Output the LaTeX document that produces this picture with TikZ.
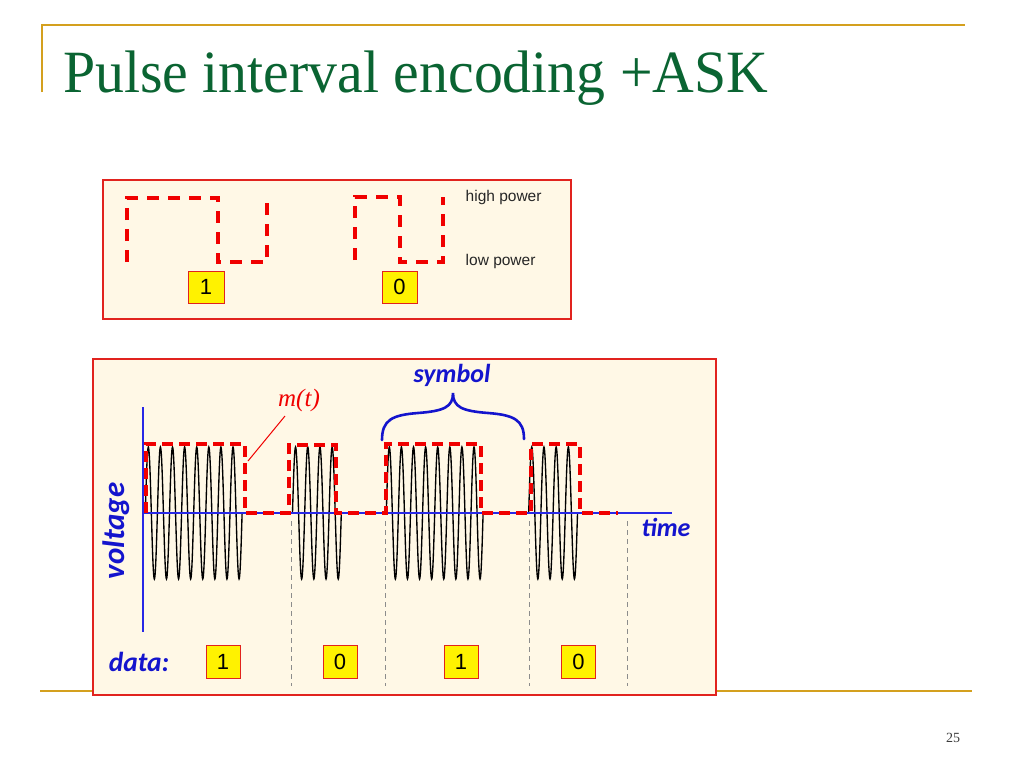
\documentclass[tikz,border=0pt]{standalone}
\usepackage{fontspec}
\setmainfont{Liberation Serif}
\newfontfamily\arialf{Liberation Sans}
\newfontfamily\carl{Carlito}
\definecolor{gold}{RGB}{212,160,30}
\definecolor{titlegreen}{RGB}{10,100,50}
\definecolor{cream}{RGB}{255,248,230}
\definecolor{boxred}{RGB}{225,35,30}
\definecolor{dashred}{RGB}{240,0,0}
\definecolor{lblblue}{RGB}{20,20,205}
\definecolor{axblue}{RGB}{40,40,230}
\definecolor{gridgrey}{RGB}{140,140,140}
\definecolor{pagegrey}{RGB}{60,60,60}
\tikzset{
  panel/.style={draw=boxred, fill=cream, line width=1.3pt},
  bitbox/.style={draw=boxred, fill=yellow, line width=1pt, inner sep=0pt,
    minimum width=34pt, minimum height=33pt, font=\arialf\fontsize{22}{24}\selectfont},
  smallwave/.style={draw=dashred, line width=4pt, dash pattern=on 12pt off 9pt, line join=miter},
  bigwave/.style={draw=dashred, line width=4.8pt, dash pattern=on 11pt off 6pt, line join=miter},
  carrier/.style={draw=black, line width=1.35pt},
  axis/.style={draw=axblue, line width=1.3pt},
  slot/.style={draw=gridgrey, line width=1pt, dash pattern=on 5pt off 4pt},
  bluelbl/.style={text=lblblue, font=\carl\bfseries\itshape\fontsize{26}{30}\selectfont, inner sep=0pt},
  powerlbl/.style={font=\arialf\fontsize{15.5}{18}\selectfont, anchor=west, inner sep=0pt, text=black!85},
  goldline/.style={draw=gold, line width=2.2pt}
}
\begin{document}
\begin{tikzpicture}[x=1pt,y=-1pt]
\useasboundingbox[fill=white] (0,0) rectangle (1024,768);
% title frame
\draw[goldline] (42,92) -- (42,25) -- (965,25);
\node[anchor=base west, inner sep=0pt, text=titlegreen] (title) at (63,92)
  {\scalebox{0.963}[1]{\fontsize{60}{66}\selectfont Pulse interval encoding +ASK}};
% bottom gold line
\draw[goldline] (40,691) -- (972,691);
\node[text=pagegrey, font=\fontsize{14}{16}\selectfont, inner sep=0pt] (pnum) at (953,738) {25};

% ---------- top panel ----------
\draw[panel] (103,180) rectangle (571,319);
\draw[smallwave] (127,262) -- (127,198) -- (218,198) -- (218,262) -- (267,262) -- (267,198);
\draw[smallwave] (355,260) -- (355,197) -- (400,197) -- (400,262) -- (443,262) -- (443,197);
\node[bitbox, minimum width=36pt, minimum height=32pt] (t1) at (206,287) {1};
\node[bitbox, minimum width=35pt, minimum height=32pt] (t0) at (399.5,287) {0};
\node[powerlbl] (hp) at (465.5,197) {high power};
\node[powerlbl] (lp) at (465.5,261) {low power};

% ---------- bottom panel ----------
\draw[panel] (93,359) rectangle (716,695);
% slot separators
\foreach \xx/\nm in {291.5/s1,385.5/s2,529.5/s3,627.5/s4}{
  \coordinate (\nm a) at (\xx,521);
  \coordinate (\nm b) at (\xx,686);
  \draw[slot] (\nm a) -- (\nm b);
}
% carriers
\draw[carrier] plot[domain=0:8,samples=321] ({145.3+12.1*\x},{513-66*sin(360*\x)});
\draw[carrier] plot[domain=0:4,samples=161] ({292.5+12.2*\x},{513-66*sin(360*\x)});
\draw[carrier] plot[domain=0:8,samples=321] ({386.3+12.1*\x},{513-66*sin(360*\x)});
\draw[carrier] plot[domain=0:4,samples=161] ({528.7+12.2*\x},{513-66*sin(360*\x)});
% axes
\coordinate (o) at (143,513);
\coordinate (ytop) at (143,407);
\coordinate (ybot) at (143,632);
\coordinate (xend) at (672,513);
\draw[axis] (ytop) -- (ybot);
\draw[axis] (o) -- (xend);
% m(t)
\draw[bigwave] (146,513) -- (146,444) -- (245,444) -- (245,513) -- (289,513) -- (289,445)
  -- (336,445) -- (336,513) -- (386,513) -- (386,444) -- (481,444) -- (481,513)
  -- (531,513) -- (531,444) -- (580,444) -- (580,513) -- (618,513);
\node[text=dashred, font=\itshape\fontsize{25}{28}\selectfont, inner sep=0pt] (mt) at (299,400) {m(t)};
\coordinate (mtip) at (248,461);
\draw[dashred, line width=1pt] (285,416) -- (mtip);
% brace
\draw[lblblue, line width=2.6pt, line cap=round]
  (382,440) .. controls (382,420) and (392,415) .. (418,413)
  .. controls (444,411) and (453,407) .. (453,393)
  .. controls (453,407) and (462,411) .. (488,413)
  .. controls (514,415) and (524,420) .. (524,439);
\node[bluelbl] (sym) at (452,375) {symbol};
\node[bluelbl] (time) at (666,527) {time};
\node[bluelbl, rotate=90, font=\carl\bfseries\itshape\fontsize{31}{34}\selectfont] (volt) at (116,531) {voltage};
\node[bluelbl, font=\carl\bfseries\itshape\fontsize{27.5}{30}\selectfont] (data) at (139,662) {data:};
% data bits
\node[bitbox] (d1) at (223,662) {1};
\node[bitbox] (d2) at (340,662) {0};
\node[bitbox] (d3) at (461,662) {1};
\node[bitbox] (d4) at (578.5,662) {0};
\end{tikzpicture}
\end{document}
